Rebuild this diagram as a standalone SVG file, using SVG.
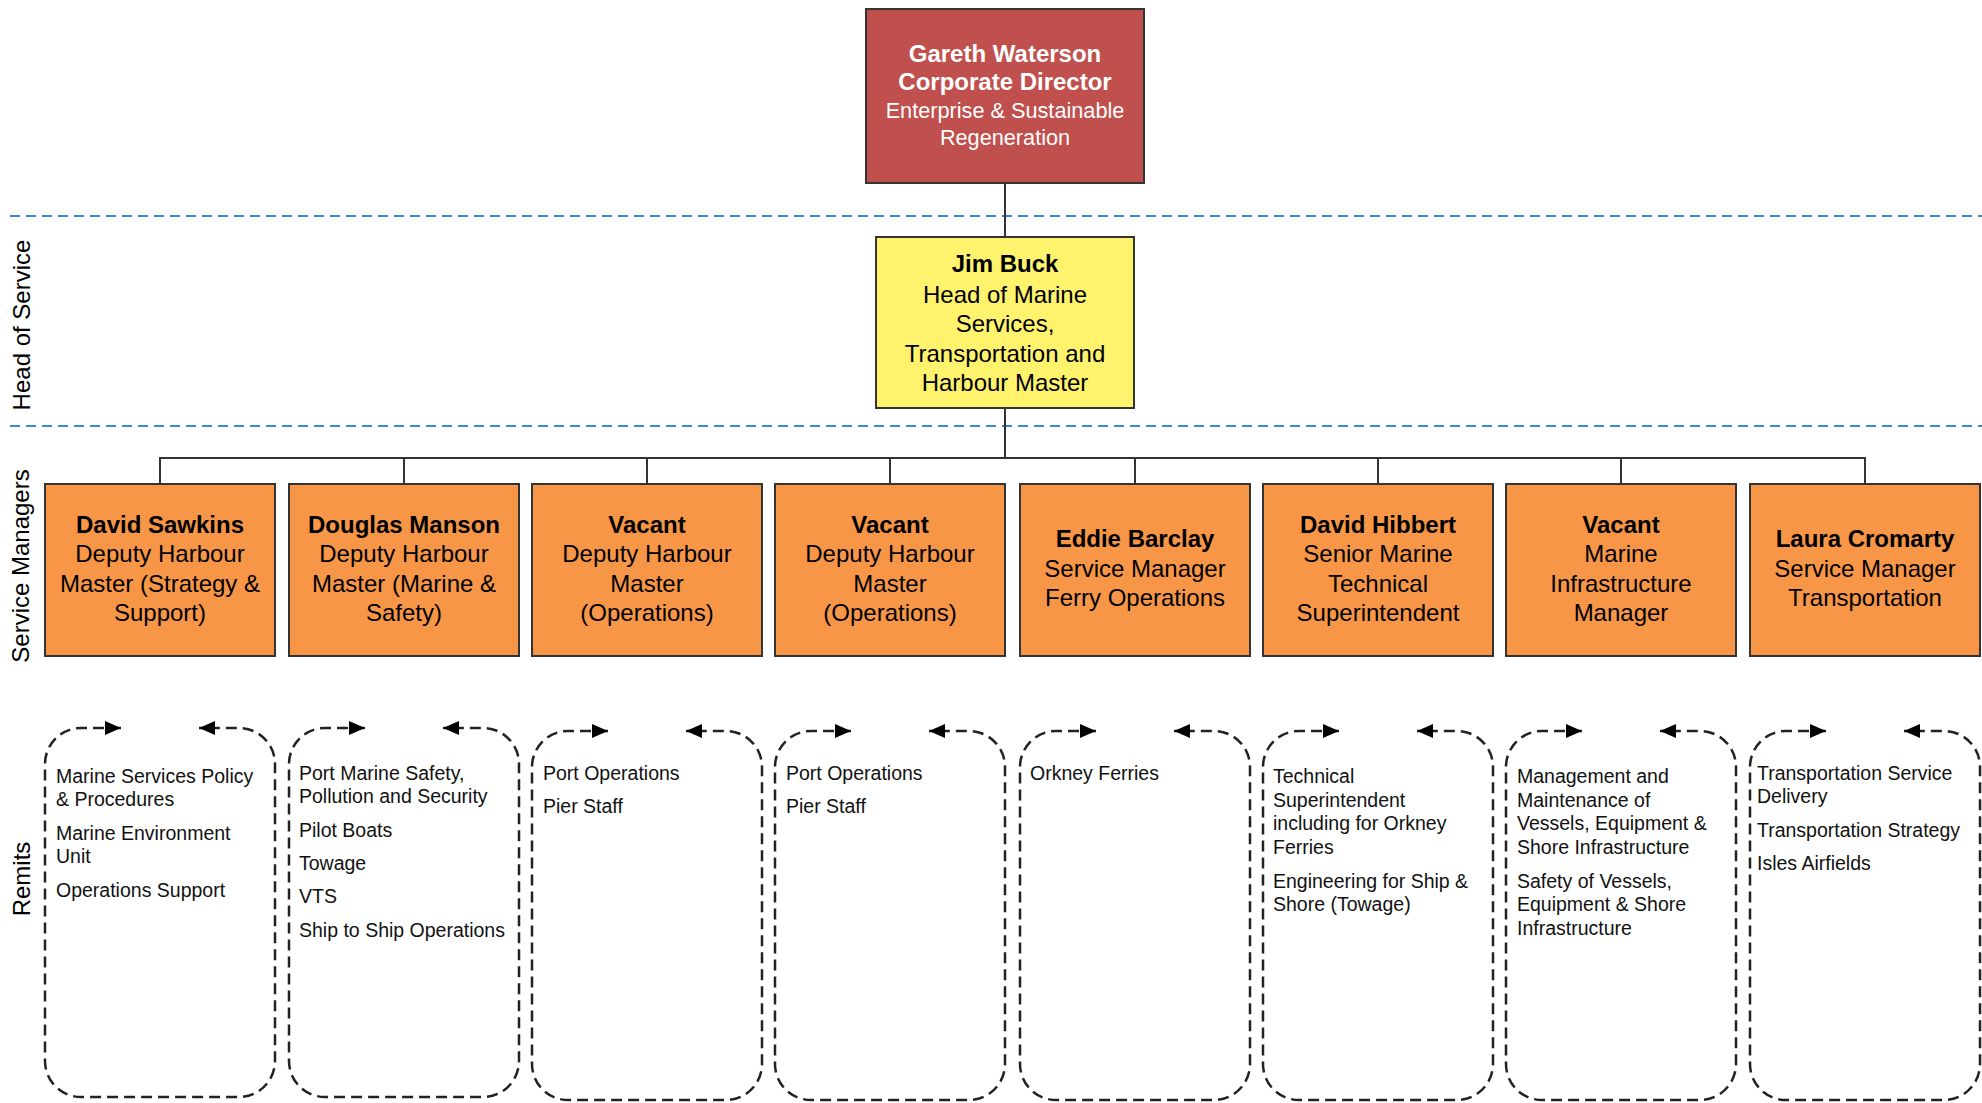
<svg xmlns="http://www.w3.org/2000/svg" width="1982" height="1103" viewBox="0 0 1982 1103">
<style>
text{font-family:"Liberation Sans",Arial,sans-serif;}
.box{stroke:#333;stroke-width:2;}
.red{fill:#C0504D;}
.yellow{fill:#FFF36E;}
.orange{fill:#F79646;}
.conn{stroke:#333;stroke-width:2;fill:none;}
.band{stroke:#3A88D4;stroke-width:2;stroke-dasharray:10 6;fill:none;}
.side{font-size:24px;fill:#000;text-anchor:middle;}
.wt{fill:#fff;text-anchor:middle;}
.bt{fill:#000;text-anchor:middle;font-size:24px;}
.b{font-weight:bold;}
.remit{stroke:#222;stroke-width:2.5;stroke-dasharray:11 6;fill:none;marker-start:url(#ah);marker-end:url(#ah);}
.rt{font-size:19.5px;fill:#111;}
</style>
<defs>
<marker id="ah" viewBox="0 0 16 14" refX="16" refY="7" markerWidth="16" markerHeight="14" markerUnits="userSpaceOnUse" orient="auto-start-reverse">
<path d="M0,0 L16,7 L0,14 z" fill="#000"/>
</marker>
</defs>
<rect width="1982" height="1103" fill="#fff"/>

<g id="bands">
<line class="band" x1="10" y1="216" x2="1982" y2="216"/>
<line class="band" x1="10" y1="426" x2="1982" y2="426"/>
<text class="side" transform="translate(30,325) rotate(-90)">Head of Service</text>
<text class="side" transform="translate(29,566) rotate(-90)">Service Managers</text>
<text class="side" transform="translate(30,879) rotate(-90)">Remits</text>
</g>

<g id="connectors">
<line class="conn" x1="1005" y1="183" x2="1005" y2="237"/>
<line class="conn" x1="1005" y1="408" x2="1005" y2="458"/>
<polyline class="conn" points="160,484 160,458 1865,458 1865,484"/>
<line class="conn" x1="404" y1="458" x2="404" y2="484"/>
<line class="conn" x1="647" y1="458" x2="647" y2="484"/>
<line class="conn" x1="890" y1="458" x2="890" y2="484"/>
<line class="conn" x1="1135" y1="458" x2="1135" y2="484"/>
<line class="conn" x1="1378" y1="458" x2="1378" y2="484"/>
<line class="conn" x1="1621" y1="458" x2="1621" y2="484"/>
</g>

<g id="director">
<rect class="box red" x="866" y="9" width="278" height="174"/>
<text class="wt b" x="1005" y="62" font-size="24">Gareth Waterson</text>
<text class="wt b" x="1005" y="90" font-size="24">Corporate Director</text>
<text class="wt" x="1005" y="117.5" font-size="21.7">Enterprise &amp; Sustainable</text>
<text class="wt" x="1005" y="145" font-size="21.7">Regeneration</text>
</g>

<g id="head">
<rect class="box yellow" x="876" y="237" width="258" height="171"/>
<text class="bt b" x="1005" y="272" font-size="26.5">Jim Buck</text>
<text class="bt" x="1005" y="302.5">Head of Marine</text>
<text class="bt" x="1005" y="332">Services,</text>
<text class="bt" x="1005" y="361.5">Transportation and</text>
<text class="bt" x="1005" y="391">Harbour Master</text>
</g>

<g id="mgr1">
<rect class="box orange" x="45" y="484" width="230" height="172"/>
<text class="bt" x="160"><tspan class="b" x="160" y="532.5">David Sawkins</tspan><tspan x="160" y="562">Deputy Harbour</tspan><tspan x="160" y="591.5">Master (Strategy &amp;</tspan><tspan x="160" y="621">Support)</tspan></text>
</g>
<g id="mgr2">
<rect class="box orange" x="289" y="484" width="230" height="172"/>
<text class="bt" x="404"><tspan class="b" x="404" y="532.5">Douglas Manson</tspan><tspan x="404" y="562">Deputy Harbour</tspan><tspan x="404" y="591.5">Master (Marine &amp;</tspan><tspan x="404" y="621">Safety)</tspan></text>
</g>
<g id="mgr3">
<rect class="box orange" x="532" y="484" width="230" height="172"/>
<text class="bt" x="647"><tspan class="b" x="647" y="532.5">Vacant</tspan><tspan x="647" y="562">Deputy Harbour</tspan><tspan x="647" y="591.5">Master</tspan><tspan x="647" y="621">(Operations)</tspan></text>
</g>
<g id="mgr4">
<rect class="box orange" x="775" y="484" width="230" height="172"/>
<text class="bt" x="890"><tspan class="b" x="890" y="532.5">Vacant</tspan><tspan x="890" y="562">Deputy Harbour</tspan><tspan x="890" y="591.5">Master</tspan><tspan x="890" y="621">(Operations)</tspan></text>
</g>
<g id="mgr5">
<rect class="box orange" x="1020" y="484" width="230" height="172"/>
<text class="bt" x="1135"><tspan class="b" x="1135" y="547">Eddie Barclay</tspan><tspan x="1135" y="576.5">Service Manager</tspan><tspan x="1135" y="606">Ferry Operations</tspan></text>
</g>
<g id="mgr6">
<rect class="box orange" x="1263" y="484" width="230" height="172"/>
<text class="bt" x="1378"><tspan class="b" x="1378" y="532.5">David Hibbert</tspan><tspan x="1378" y="562">Senior Marine</tspan><tspan x="1378" y="591.5">Technical</tspan><tspan x="1378" y="621">Superintendent</tspan></text>
</g>
<g id="mgr7">
<rect class="box orange" x="1506" y="484" width="230" height="172"/>
<text class="bt" x="1621"><tspan class="b" x="1621" y="532.5">Vacant</tspan><tspan x="1621" y="562">Marine</tspan><tspan x="1621" y="591.5">Infrastructure</tspan><tspan x="1621" y="621">Manager</tspan></text>
</g>
<g id="mgr8">
<rect class="box orange" x="1750" y="484" width="230" height="172"/>
<text class="bt" x="1865"><tspan class="b" x="1865" y="547">Laura Cromarty</tspan><tspan x="1865" y="576.5">Service Manager</tspan><tspan x="1865" y="606">Transportation</tspan></text>
</g>

<g id="remit1">
<path class="remit" d="M121 728 H81 A36 36 0 0 0 45 764 V1061 A36 36 0 0 0 81 1097 H239 A36 36 0 0 0 275 1061 V764 A36 36 0 0 0 239 728 H199"/>
<text class="rt"><tspan x="56" y="783">Marine Services Policy</tspan><tspan x="56" y="806">&amp; Procedures</tspan><tspan x="56" y="840">Marine Environment</tspan><tspan x="56" y="863">Unit</tspan><tspan x="56" y="897">Operations Support</tspan></text>
</g>
<g id="remit2">
<path class="remit" d="M365 728 H325 A36 36 0 0 0 289 764 V1061 A36 36 0 0 0 325 1097 H483 A36 36 0 0 0 519 1061 V764 A36 36 0 0 0 483 728 H443"/>
<text class="rt"><tspan x="299" y="780">Port Marine Safety,</tspan><tspan x="299" y="803">Pollution and Security</tspan><tspan x="299" y="837">Pilot Boats</tspan><tspan x="299" y="869.5">Towage</tspan><tspan x="299" y="903">VTS</tspan><tspan x="299" y="937">Ship to Ship Operations</tspan></text>
</g>
<g id="remit3">
<path class="remit" d="M608 731 H568 A36 36 0 0 0 532 767 V1064 A36 36 0 0 0 568 1100 H726 A36 36 0 0 0 762 1064 V767 A36 36 0 0 0 726 731 H686"/>
<text class="rt"><tspan x="543" y="779.5">Port Operations</tspan><tspan x="543" y="813">Pier Staff</tspan></text>
</g>
<g id="remit4">
<path class="remit" d="M851 731 H811 A36 36 0 0 0 775 767 V1064 A36 36 0 0 0 811 1100 H969 A36 36 0 0 0 1005 1064 V767 A36 36 0 0 0 969 731 H929"/>
<text class="rt"><tspan x="786" y="779.5">Port Operations</tspan><tspan x="786" y="813">Pier Staff</tspan></text>
</g>
<g id="remit5">
<path class="remit" d="M1096 731 H1056 A36 36 0 0 0 1020 767 V1064 A36 36 0 0 0 1056 1100 H1214 A36 36 0 0 0 1250 1064 V767 A36 36 0 0 0 1214 731 H1174"/>
<text class="rt"><tspan x="1030" y="779.5">Orkney Ferries</tspan></text>
</g>
<g id="remit6">
<path class="remit" d="M1339 731 H1299 A36 36 0 0 0 1263 767 V1064 A36 36 0 0 0 1299 1100 H1457 A36 36 0 0 0 1493 1064 V767 A36 36 0 0 0 1457 731 H1417"/>
<text class="rt"><tspan x="1273" y="783">Technical</tspan><tspan x="1273" y="806.5">Superintendent</tspan><tspan x="1273" y="830">including for Orkney</tspan><tspan x="1273" y="853.5">Ferries</tspan><tspan x="1273" y="887.5">Engineering for Ship &amp;</tspan><tspan x="1273" y="911">Shore (Towage)</tspan></text>
</g>
<g id="remit7">
<path class="remit" d="M1582 731 H1542 A36 36 0 0 0 1506 767 V1064 A36 36 0 0 0 1542 1100 H1700 A36 36 0 0 0 1736 1064 V767 A36 36 0 0 0 1700 731 H1660"/>
<text class="rt"><tspan x="1517" y="783">Management and</tspan><tspan x="1517" y="806.5">Maintenance of</tspan><tspan x="1517" y="830">Vessels, Equipment &amp;</tspan><tspan x="1517" y="853.5">Shore Infrastructure</tspan><tspan x="1517" y="887.5">Safety of Vessels,</tspan><tspan x="1517" y="911">Equipment &amp; Shore</tspan><tspan x="1517" y="934.5">Infrastructure</tspan></text>
</g>
<g id="remit8">
<path class="remit" d="M1826 731 H1786 A36 36 0 0 0 1750 767 V1064 A36 36 0 0 0 1786 1100 H1944 A36 36 0 0 0 1980 1064 V767 A36 36 0 0 0 1944 731 H1904"/>
<text class="rt"><tspan x="1757" y="780">Transportation Service</tspan><tspan x="1757" y="803">Delivery</tspan><tspan x="1757" y="837">Transportation Strategy</tspan><tspan x="1757" y="869.5">Isles Airfields</tspan></text>
</g>
</svg>
